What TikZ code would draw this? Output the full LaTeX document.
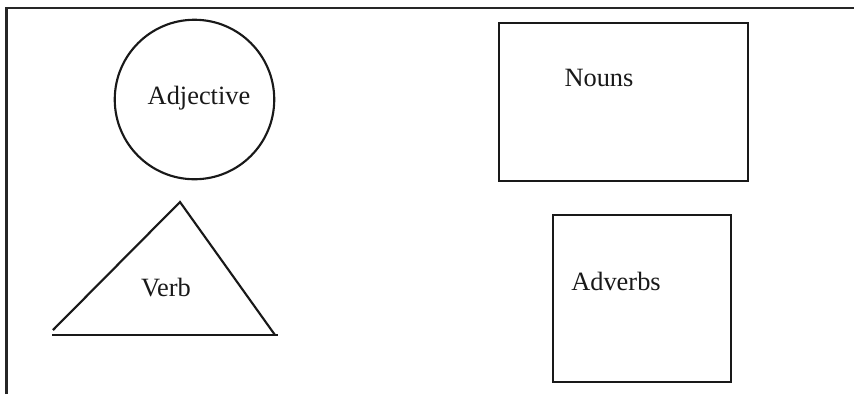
\documentclass[tikz,border=0pt]{standalone}
\usepackage{fontspec}
\setmainfont{Liberation Serif}
\begin{document}
\begin{tikzpicture}[x=0.75pt,y=-0.75pt,
  shape line/.style={line width=1.6pt,draw=black!90},
  frame line/.style={line width=1.9pt,draw=black!85},
  label text/.style={font=\fontsize{19.8}{24}\selectfont,text=black!90,anchor=base,inner sep=0pt}]
\useasboundingbox (0,0) rectangle (854,394);
% open frame: top and left edges only
\coordinate (fbl) at (6.5,394);
\coordinate (ftl) at (6.5,8);
\coordinate (ftr) at (854,8);
\draw[frame line] (fbl) -- (ftl) -- (ftr);
% circle
\node[circle,shape line,minimum size=159.5*0.75pt,inner sep=0pt] (adjc) at (194.5,99.5) {};
\node[label text] (adj) at (199,104) {Adjective};
% triangle
\coordinate (tapex) at (180,202);
\coordinate (tleft) at (53,330);
\coordinate (tright) at (275,335);
\coordinate (bl) at (52,335);
\coordinate (br) at (278,335);
\draw[shape line] (tleft) -- (tapex) -- (tright);
\draw[shape line] (bl) -- (br);
\node[label text] (verb) at (166,296) {Verb};
% rectangles
\node[rectangle,shape line,minimum width=249*0.75pt,minimum height=158*0.75pt,inner sep=0pt] (nbox) at (623.5,102) {};
\node[label text] (nouns) at (599,86.7) {Nouns};
\node[rectangle,shape line,minimum width=178*0.75pt,minimum height=167*0.75pt,inner sep=0pt] (abox) at (642,298.5) {};
\node[label text] (adverbs) at (616,290) {Adverbs};
\end{tikzpicture}
\end{document}
